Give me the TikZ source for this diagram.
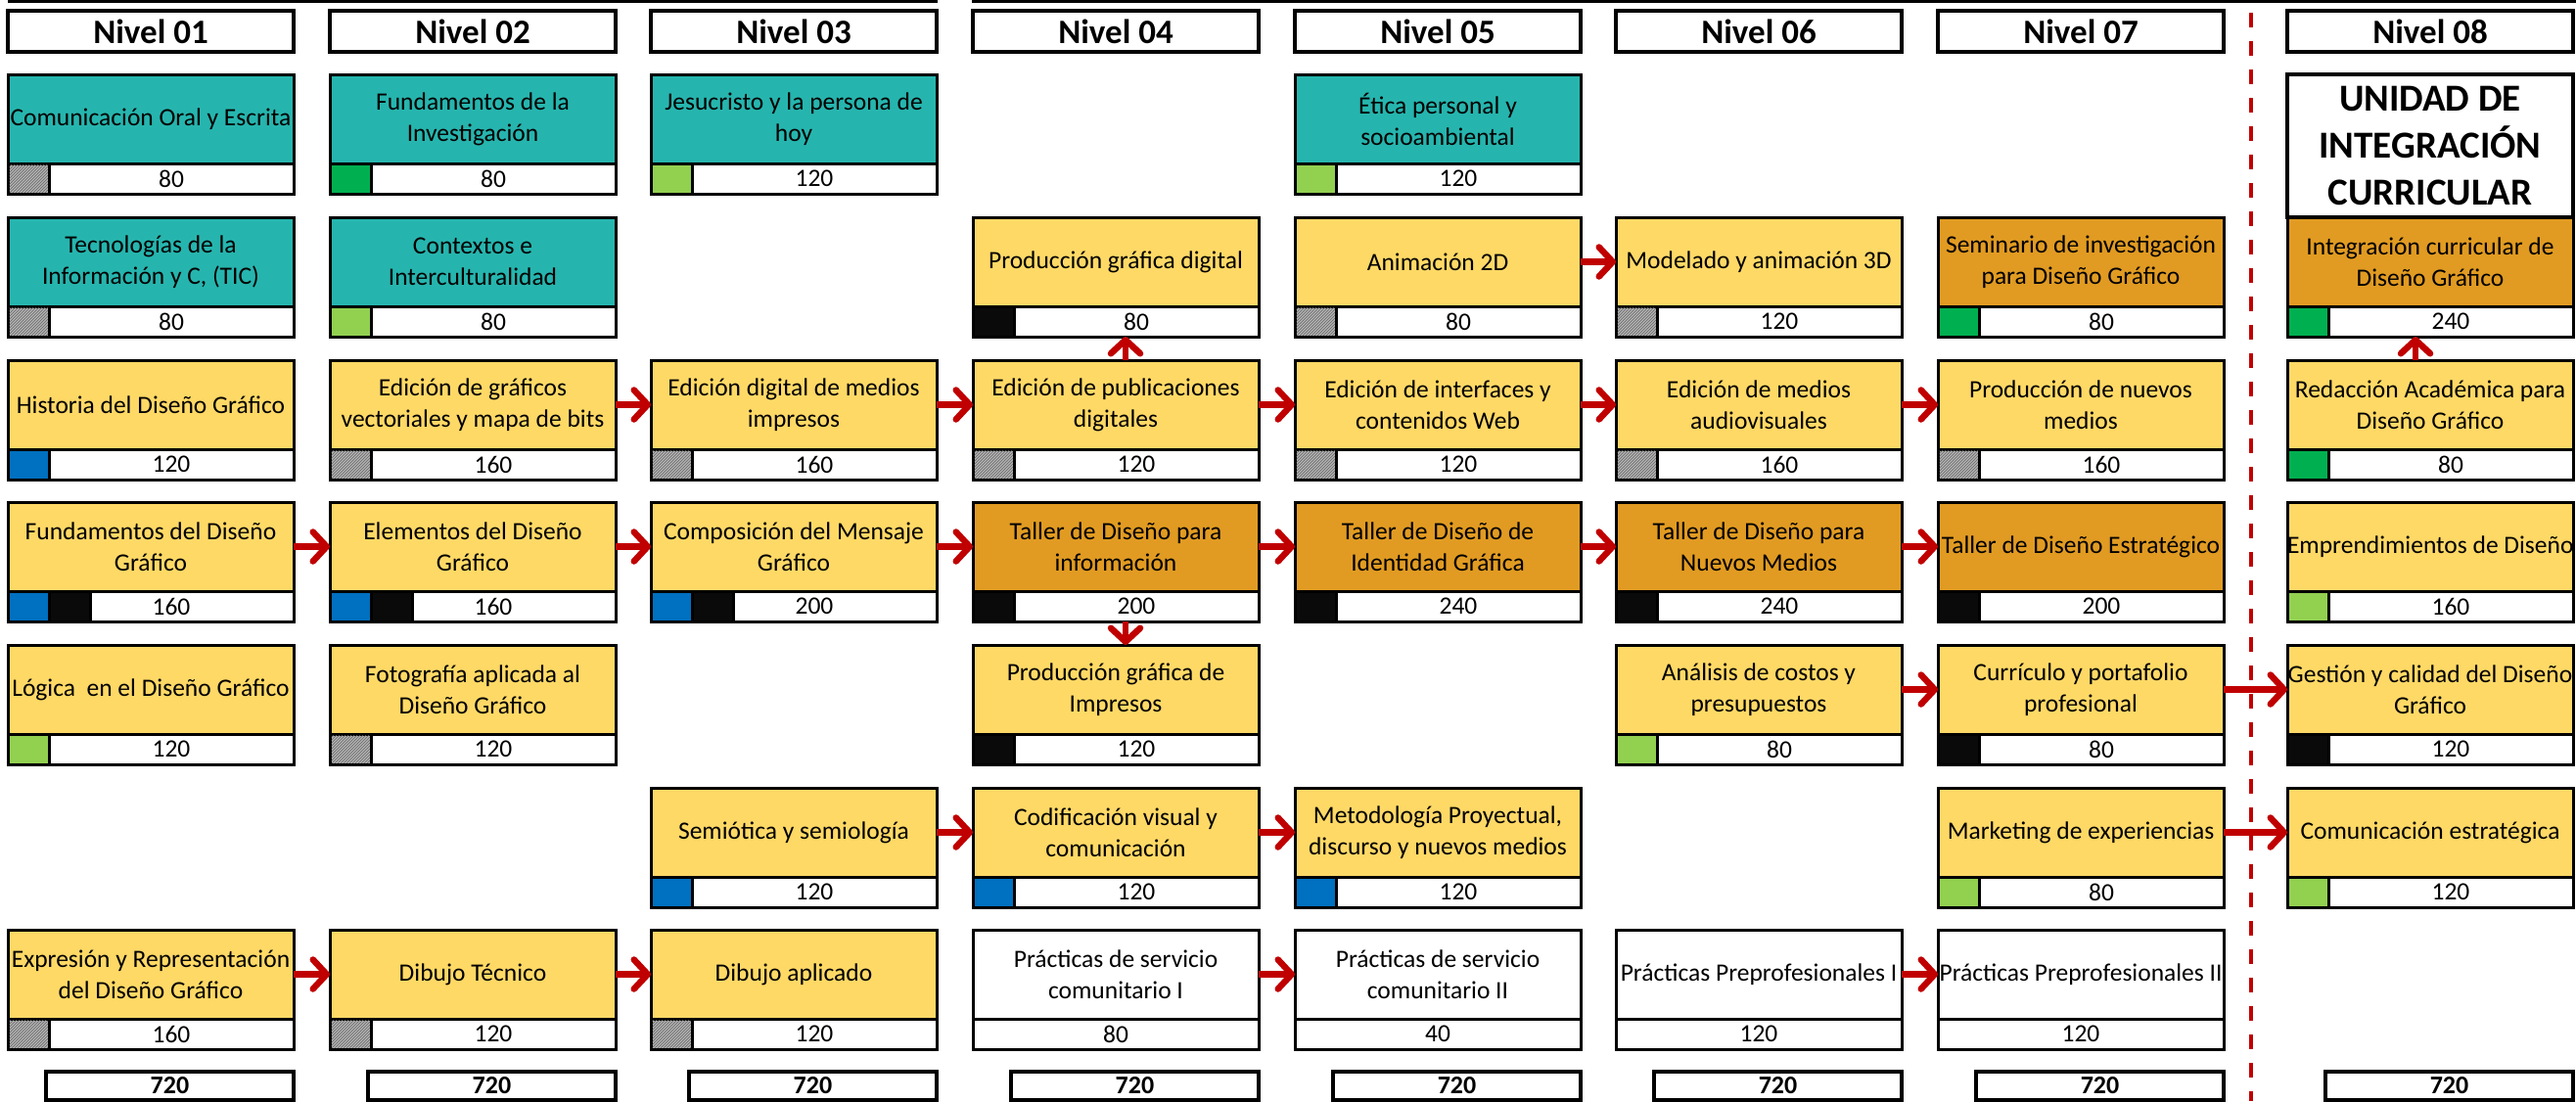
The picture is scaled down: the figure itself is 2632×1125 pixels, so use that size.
\documentclass[tikz,border=0pt]{standalone}
\usepackage{fontspec}
\setmainfont{Carlito}
\usetikzlibrary{arrows.meta,patterns,calc}
\definecolor{tealc}{HTML}{26B5AE}
\definecolor{yel}{HTML}{FFD966}
\definecolor{org}{HTML}{E19B22}
\definecolor{blu}{HTML}{0070C0}
\definecolor{dgr}{HTML}{00B050}
\definecolor{lgr}{HTML}{92D050}
\definecolor{blk}{HTML}{0A0A0A}
\definecolor{arrred}{HTML}{C00000}
\tikzset{
 namebox/.style={draw=black, line width=3pt, outer sep=0pt, minimum width=292pt, minimum height=91pt, inner sep=0pt, align=center, font=\fontsize{25.5}{32}\selectfont, anchor=north west},
 hourbox/.style={draw=black, fill=white, line width=3pt, outer sep=0pt, minimum width=292pt, minimum height=31pt, inner sep=0pt, anchor=north west},
 hnum/.style={font=\fontsize{25.5}{28}\selectfont, inner sep=0pt},
 hatch/.style={fill=gray!60, postaction={pattern=north east lines, pattern color=black!60}},
 lvl/.style={draw=black, line width=4.5pt, outer sep=0pt, minimum width=292pt, minimum height=42pt, inner sep=0pt, anchor=north west, font=\fontsize{35}{38}\selectfont\bfseries},
 tot/.style={draw=black, line width=4pt, outer sep=0pt, minimum width=253pt, minimum height=29pt, inner sep=0pt, anchor=north west, font=\fontsize{26}{28}\selectfont\bfseries},
 arr/.style={draw=arrred, line width=6.5pt, -{Straight Barb[length=14pt,width=30pt,round]}},
}
% course: id, x, y, fill, text, hours, number offset
\newcommand{\crs}[7]{%
  \node[namebox, fill=#4] (#1) at (#2,#3) {#5};
  \node[hourbox] (#1h) at (#2,#3+91) {};
  \node[hnum] (#1n) at ($(#1h.west)+(#7pt,0)$) {#6};
}
\newcommand{\sq}[3]{%
  \fill[#3] ([shift={(#2*42pt+1.5pt,1.5pt)}]#1h.south west) rectangle ([shift={(#2*42pt+42pt,-1.5pt)}]#1h.north west);
  \draw[line width=3pt] ([xshift=#2*42pt+42pt]#1h.south west) -- ([xshift=#2*42pt+42pt]#1h.north west);
}
\begin{document}
\begin{tikzpicture}[x=1pt,y=-1pt]
\fill[white] (0,0) rectangle (2632,1125);
\useasboundingbox (0,0) rectangle (2632,1125);
% top rules
\draw[line width=3.5pt] (8,1.5) -- (958,1.5);
\draw[line width=3.5pt] (993,1.5) -- (2632,1.5);
% divider
\draw[arrred, line width=4pt, dash pattern=on 15pt off 14pt] (2300,13) -- (2300,1125);
% headers
\node[lvl] (n1) at (8,11) {Nivel 01};
\node[lvl] (n2) at (337,11) {Nivel 02};
\node[lvl] (n3) at (665,11) {Nivel 03};
\node[lvl] (n4) at (994,11) {Nivel 04};
\node[lvl] (n5) at (1323,11) {Nivel 05};
\node[lvl] (n6) at (1651,11) {Nivel 06};
\node[lvl] (n7) at (1980,11) {Nivel 07};
\node[lvl] (n8) at (2337,11) {Nivel 08};
% unidad
\node[draw=black, fill=white, line width=4pt, outer sep=0pt, minimum width=292pt, minimum height=146pt, inner sep=0pt, anchor=north west, align=center, font=\fontsize{39}{48}\selectfont\bfseries] (uic) at (2337,76) {UNIDAD DE\\INTEGRACIÓN\\CURRICULAR};
% row 1
\crs{c11}{8}{76}{tealc}{Comunicación Oral y Escrita}{80}{167}\sq{c11}{0}{hatch}
\crs{c12}{337}{76}{tealc}{Fundamentos de la\\Investigación}{80}{167}\sq{c12}{0}{dgr}
\crs{c13}{665}{76}{tealc}{Jesucristo y la persona de\\hoy}{120}{167}\sq{c13}{0}{lgr}
\crs{c15}{1323}{76}{tealc}{Ética personal y\\socioambiental}{120}{167}\sq{c15}{0}{lgr}
% row 2
\crs{c21}{8}{222}{tealc}{Tecnologías de la\\Información y C, (TIC)}{80}{167}\sq{c21}{0}{hatch}
\crs{c22}{337}{222}{tealc}{Contextos e\\Interculturalidad}{80}{167}\sq{c22}{0}{lgr}
\crs{c24}{994}{222}{yel}{Producción gráfica digital}{80}{167}\sq{c24}{0}{blk}
\crs{c25}{1323}{222}{yel}{Animación 2D}{80}{167}\sq{c25}{0}{hatch}
\crs{c26}{1651}{222}{yel}{Modelado y animación 3D}{120}{167}\sq{c26}{0}{hatch}
\crs{c27}{1980}{222}{org}{Seminario de investigación\\para Diseño Gráfico}{80}{167}\sq{c27}{0}{dgr}
\crs{c28}{2337}{222}{org}{Integración curricular de\\Diseño Gráfico}{240}{167}\sq{c28}{0}{dgr}
% row 3
\crs{c31}{8}{368}{yel}{Historia del Diseño Gráfico}{120}{167}\sq{c31}{0}{blu}
\crs{c32}{337}{368}{yel}{Edición de gráficos\\vectoriales y mapa de bits}{160}{167}\sq{c32}{0}{hatch}
\crs{c33}{665}{368}{yel}{Edición digital de medios\\impresos}{160}{167}\sq{c33}{0}{hatch}
\crs{c34}{994}{368}{yel}{Edición de publicaciones\\digitales}{120}{167}\sq{c34}{0}{hatch}
\crs{c35}{1323}{368}{yel}{Edición de interfaces y\\contenidos Web}{120}{167}\sq{c35}{0}{hatch}
\crs{c36}{1651}{368}{yel}{Edición de medios\\audiovisuales}{160}{167}\sq{c36}{0}{hatch}
\crs{c37}{1980}{368}{yel}{Producción de nuevos\\medios}{160}{167}\sq{c37}{0}{hatch}
\crs{c38}{2337}{368}{yel}{Redacción Académica para\\Diseño Gráfico}{80}{167}\sq{c38}{0}{dgr}
% row 4
\crs{c41}{8}{513}{yel}{Fundamentos del Diseño\\Gráfico}{160}{167}\sq{c41}{0}{blu}\sq{c41}{1}{blk}
\crs{c42}{337}{513}{yel}{Elementos del Diseño\\Gráfico}{160}{167}\sq{c42}{0}{blu}\sq{c42}{1}{blk}
\crs{c43}{665}{513}{yel}{Composición del Mensaje\\Gráfico}{200}{167}\sq{c43}{0}{blu}\sq{c43}{1}{blk}
\crs{c44}{994}{513}{org}{Taller de Diseño para\\información}{200}{167}\sq{c44}{0}{blk}
\crs{c45}{1323}{513}{org}{Taller de Diseño de\\Identidad Gráfica}{240}{167}\sq{c45}{0}{blk}
\crs{c46}{1651}{513}{org}{Taller de Diseño para\\Nuevos Medios}{240}{167}\sq{c46}{0}{blk}
\crs{c47}{1980}{513}{org}{Taller de Diseño Estratégico}{200}{167}\sq{c47}{0}{blk}
\crs{c48}{2337}{513}{yel}{Emprendimientos de Diseño}{160}{167}\sq{c48}{0}{lgr}
% row 5
\crs{c51}{8}{659}{yel}{Lógica~ en el Diseño Gráfico}{120}{167}\sq{c51}{0}{lgr}
\crs{c52}{337}{659}{yel}{Fotografía aplicada al\\Diseño Gráfico}{120}{167}\sq{c52}{0}{hatch}
\crs{c54}{994}{659}{yel}{Producción gráfica de\\Impresos}{120}{167}\sq{c54}{0}{blk}
\crs{c56}{1651}{659}{yel}{Análisis de costos y\\presupuestos}{80}{167}\sq{c56}{0}{lgr}
\crs{c57}{1980}{659}{yel}{Currículo y portafolio\\profesional}{80}{167}\sq{c57}{0}{blk}
\crs{c58}{2337}{659}{yel}{Gestión y calidad del Diseño\\Gráfico}{120}{167}\sq{c58}{0}{blk}
% row 6
\crs{c63}{665}{805}{yel}{Semiótica y semiología}{120}{167}\sq{c63}{0}{blu}
\crs{c64}{994}{805}{yel}{Codificación visual y\\comunicación}{120}{167}\sq{c64}{0}{blu}
\crs{c65}{1323}{805}{yel}{Metodología Proyectual,\\discurso y nuevos medios}{120}{167}\sq{c65}{0}{blu}
\crs{c67}{1980}{805}{yel}{Marketing de experiencias}{80}{167}\sq{c67}{0}{lgr}
\crs{c68}{2337}{805}{yel}{Comunicación estratégica}{120}{167}\sq{c68}{0}{lgr}
% row 7
\crs{c71}{8}{950}{yel}{Expresión y Representación\\del Diseño Gráfico}{160}{167}\sq{c71}{0}{hatch}
\crs{c72}{337}{950}{yel}{Dibujo Técnico}{120}{167}\sq{c72}{0}{hatch}
\crs{c73}{665}{950}{yel}{Dibujo aplicado}{120}{167}\sq{c73}{0}{hatch}
\crs{c74}{994}{950}{white}{Prácticas de servicio\\comunitario I}{80}{146}
\crs{c75}{1323}{950}{white}{Prácticas de servicio\\comunitario II}{40}{146}
\crs{c76}{1651}{950}{white}{Prácticas Preprofesionales I}{120}{146}
\crs{c77}{1980}{950}{white}{Prácticas Preprofesionales II}{120}{146}
% totals
\node[tot] (t1) at (47,1095) {720};
\node[tot] (t2) at (376,1095) {720};
\node[tot] (t3) at (704,1095) {720};
\node[tot] (t4) at (1033,1095) {720};
\node[tot] (t5) at (1362,1095) {720};
\node[tot] (t6) at (1690,1095) {720};
\node[tot] (t7) at (2019,1095) {720};
\node[tot] (t8) at (2376,1095) {720};
% arrows
\draw[arr] (c25) -- (c26);
\draw[arr] ([xshift=10pt]c34.north) -- ([xshift=10pt]c24h.south);
\draw[arr] ([xshift=-15pt]c38.north) -- ([xshift=-15pt]c28h.south);
\draw[arr] (c32) -- (c33);
\draw[arr] (c33) -- (c34);
\draw[arr] (c34) -- (c35);
\draw[arr] (c35) -- (c36);
\draw[arr] (c36) -- (c37);
\draw[arr] (c41) -- (c42);
\draw[arr] (c42) -- (c43);
\draw[arr] (c43) -- (c44);
\draw[arr] (c44) -- (c45);
\draw[arr] (c45) -- (c46);
\draw[arr] (c46) -- (c47);
\draw[arr] ([xshift=10pt]c44h.south) -- ([xshift=10pt]c54.north);
\draw[arr] (c56) -- (c57);
\draw[arr] (c57) -- (c58);
\draw[arr] (c63) -- (c64);
\draw[arr] (c64) -- (c65);
\draw[arr] (c67) -- (c68);
\draw[arr] (c71) -- (c72);
\draw[arr] (c72) -- (c73);
\draw[arr] (c74) -- (c75);
\draw[arr] (c76) -- (c77);
\end{tikzpicture}
\end{document}
